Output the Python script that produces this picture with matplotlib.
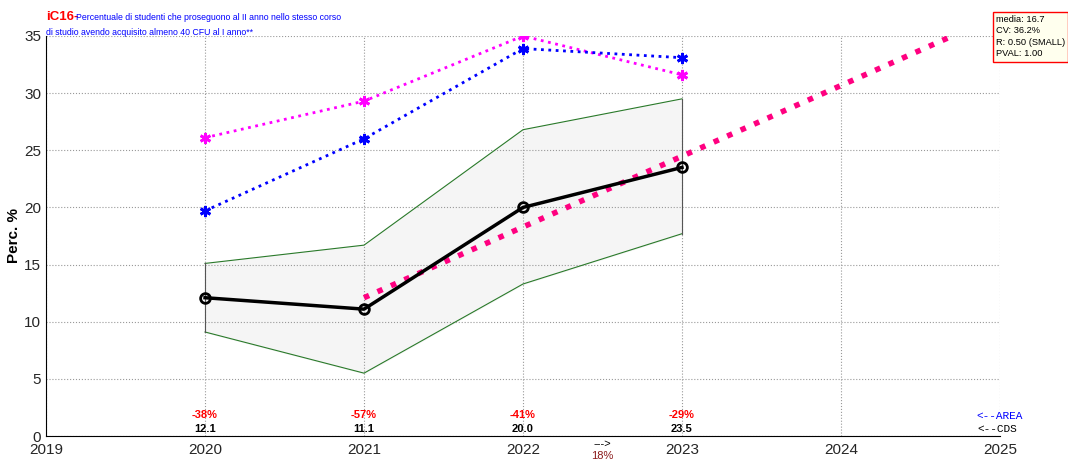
import numpy as np
import matplotlib.pyplot as plt

plt.rcParams['font.family'] = ['Liberation Sans', 'DejaVu Sans']

anni = [2020, 2021, 2022, 2023]
cds = [12.1, 11.1, 20.0, 23.5]
banda_sup = [15.1, 16.7, 26.8, 29.5]
banda_inf = [9.1, 5.5, 13.3, 17.7]
magenta = [26.1, 29.3, 35.0, 31.6]
blu = [19.7, 26.0, 33.9, 33.1]
variazioni = ["-38%", "-57%", "-41%", "-29%"]
trend_x = [2021, 2024.7]
trend_y = [12.1, 35.0]
stats = "media: 16.7\nCV: 36.2%\nR: 0.50 (SMALL)\nPVAL: 1.00"

fig = plt.figure(figsize=(10.68, 4.59), dpi=100)
ax = fig.add_axes([0.0431, 0.0501, 0.8932, 0.8715])

# banda area
ax.fill_between(anni, banda_inf, banda_sup, color='#f5f5f5', zorder=1)
ax.plot(anni, banda_sup, color='#2a7a2a', lw=0.8, zorder=2)
ax.plot(anni, banda_inf, color='#2a7a2a', lw=0.8, zorder=2)
ax.plot([anni[0], anni[0]], [banda_inf[0], banda_sup[0]], color='#555555', lw=0.8, zorder=2)
ax.plot([anni[-1], anni[-1]], [banda_inf[-1], banda_sup[-1]], color='#555555', lw=0.8, zorder=2)

asterisco = (6, 2, 0)
ax.plot(anni, magenta, color='magenta', ls=':', lw=2, marker=asterisco, ms=8, mew=2, zorder=3)
ax.plot(anni, blu, color='blue', ls=':', lw=2, marker=asterisco, ms=8, mew=2, zorder=3)
ax.plot(trend_x, trend_y, color='#ff0080', ls=':', lw=4, zorder=4)
ax.plot(anni, cds, color='black', lw=2.5, marker='o', ms=7, mfc='none', mew=2, zorder=5)

ax.set_xlim(2019, 2025)
ax.set_ylim(0, 35)
ax.set_xticks(range(2019, 2026))
ax.set_yticks(range(0, 36, 5))
ax.grid(True, color='#999999', ls=':', lw=0.8)
ax.spines['top'].set_visible(False)
ax.spines['right'].set_visible(False)
ax.tick_params(labelsize=11, length=0, labelcolor='#262626')
ax.tick_params(axis='x', pad=5)
ax.set_ylabel('Perc. %', fontsize=11, fontweight='bold')
ax.yaxis.set_label_coords(-0.026, 0.5)

for x, v, p in zip(anni, cds, variazioni):
    ax.text(x, 1.85, p, color='red', fontsize=8, fontweight='bold', ha='center', va='center')
    ax.text(x, 0.6, f"{v:.1f}", color='black', fontsize=8, fontweight='bold', ha='center', va='center')

ax.text(2022.5, -0.7, '--->', fontsize=8, ha='center', va='center', clip_on=False)
ax.text(2022.5, -1.75, '18%', fontsize=8, color='#8b1a1a', ha='center', va='center', clip_on=False)
ax.text(2024.85, 1.75, '<--AREA', fontsize=8, color='blue', family='Liberation Mono',
        ha='left', va='center', clip_on=False)
ax.text(2024.86, 0.6, '<--CDS', fontsize=8, color='black', family='Liberation Mono',
        ha='left', va='center', clip_on=False)

fig.text(0.043, 0.963, 'iC16-', color='red', fontsize=9.5, fontweight='bold', va='center')
fig.text(0.071, 0.961, 'Percentuale di studenti che proseguono al II anno nello stesso corso',
         color='blue', fontsize=6.3, va='center')
fig.text(0.043, 0.93, 'di studio avendo acquisito almeno 40 CFU al I anno**',
         color='blue', fontsize=6.3, va='center')

fig.text(0.9325, 0.92, stats, fontsize=6.7, va='center', ha='left', linespacing=1.35,
         bbox=dict(boxstyle='square,pad=0.35', fc='#ffffee', ec='red', lw=1))

fig.savefig('out.png', dpi=100)
